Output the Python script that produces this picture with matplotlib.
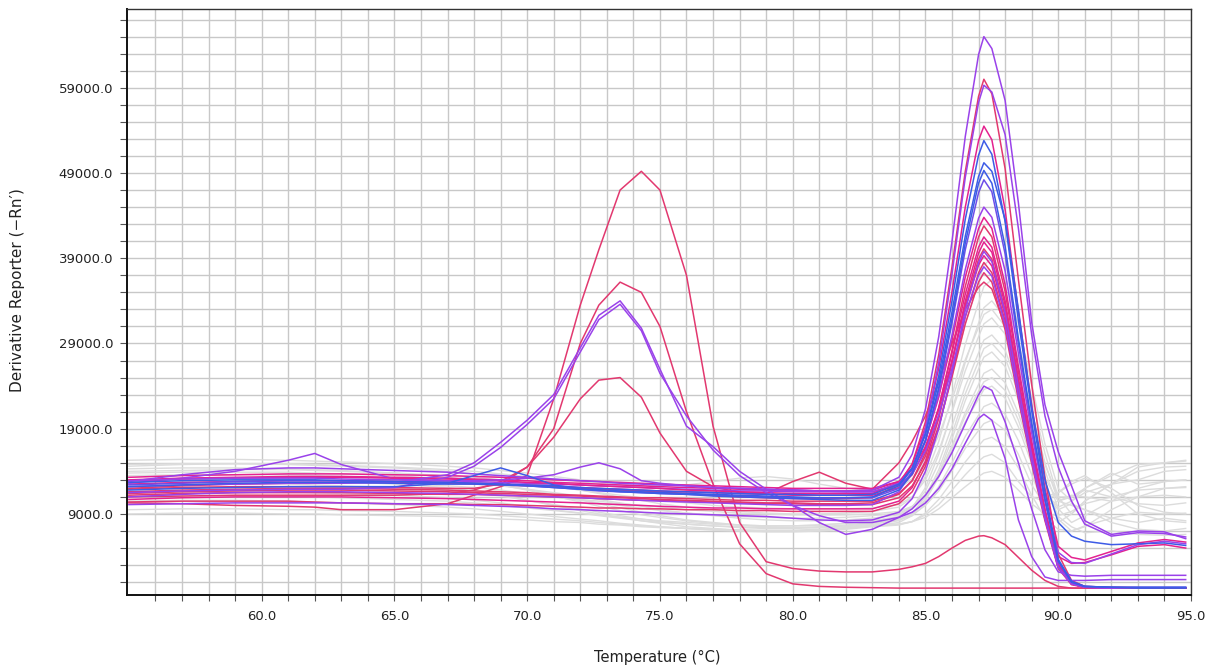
import numpy as np
import matplotlib
matplotlib.use("Agg")
import matplotlib.pyplot as plt
from matplotlib.ticker import FixedLocator, FuncFormatter

# Temperature grid shared by every melt curve (deg C)
temp_c = [55, 57, 59, 61, 62, 63, 65, 67, 68, 69, 70, 71, 72,
          72.7, 73.5, 74.3, 75, 76, 77, 78, 79, 80, 81, 82, 83,
          84, 84.5, 85, 85.5, 86, 86.5, 87, 87.2,
          87.5, 88, 88.5, 89, 89.5, 90, 90.5, 91, 92, 93, 94, 94.8]

# Derivative reporter values, in thousands of -Rn' units
# ---- highlighted wells ----
c1_k = [12.8, 13.6, 14.2, 14.4, 14.4, 14.3, 14.1, 13.9, 13.7, 13.5, 13.3, 13.1, 12.9,
        12.8, 12.6, 12.5, 12.4, 12.3, 12.1, 12.0, 11.9, 11.8, 11.7, 11.7, 11.8,
        13.3, 16.0, 21.3, 29.8, 41.0, 53.3, 62.9, 65.0,
        63.6, 57.5, 45.5, 31.5, 21.8, 16.3, 12.3, 8.2, 6.6, 7.0, 6.9, 6.1]
c2a_k = [12.0, 12.3, 12.5, 12.6, 12.6, 12.7, 12.7, 12.6, 12.5, 12.4, 12.3, 12.2, 12.0,
         11.9, 11.8, 11.7, 11.6, 11.4, 11.2, 11.0, 10.9, 10.8, 10.8, 10.8, 10.9,
         12.5, 14.9, 19.8, 27.7, 38.0, 49.2, 58.0, 60.0,
         58.3, 49.5, 36.5, 24.2, 13.3, 4.3, 1.2, 0.5, 0.4, 0.35, 0.3, 0.3]
c2b_k = [11.0, 11.3, 11.5, 11.6, 11.6, 11.6, 11.5, 11.4, 11.3, 11.2, 11.1, 11.0, 10.9,
         10.8, 10.7, 10.6, 10.5, 10.4, 10.3, 10.2, 10.1, 10.0, 10.0, 10.0, 10.1,
         11.6, 14.0, 19.0, 26.8, 37.2, 48.5, 57.3, 59.3,
         58.5, 53.5, 42.5, 30.0, 20.5, 14.5, 10.5, 7.8, 6.4, 6.8, 6.7, 6.3]
c3_k = [12.9, 13.1, 13.2, 13.3, 13.3, 13.3, 13.2, 13.1, 13.0, 12.9, 12.7, 12.6, 12.4,
        12.3, 12.2, 12.1, 12.0, 11.8, 11.7, 11.6, 11.5, 11.4, 11.4, 11.4, 11.4,
        12.7, 14.8, 19.2, 26.1, 35.1, 45.0, 52.8, 54.5,
        52.9, 44.7, 32.7, 21.8, 12.0, 5.2, 3.9, 3.6, 4.6, 5.6, 6.0, 5.7]
c4_k = [12.2, 12.4, 12.6, 12.7, 12.7, 12.7, 12.6, 12.5, 12.5, 12.4, 12.3, 12.1, 11.9,
        11.8, 11.7, 11.6, 11.5, 11.4, 11.3, 11.2, 11.1, 11.0, 10.9, 10.9, 11.0,
        12.3, 14.3, 18.5, 25.2, 34.0, 43.6, 51.1, 52.8,
        51.2, 43.3, 31.7, 21.1, 11.6, 3.7, 1.1, 0.5, 0.4, 0.4, 0.4, 0.4]
c5_k = [12.7, 12.9, 13.0, 13.0, 13.0, 12.9, 12.8, 12.7, 12.6, 12.5, 12.4, 12.3, 12.1,
        12.0, 11.9, 11.8, 11.7, 11.6, 11.5, 11.4, 11.3, 11.3, 11.2, 11.2, 11.3,
        12.5, 14.4, 18.3, 24.5, 32.7, 41.6, 48.6, 50.2,
        49.2, 43.5, 33.0, 21.5, 13.0, 8.0, 6.4, 5.8, 5.4, 5.5, 5.6, 5.3]
c6_k = [11.8, 12.0, 12.1, 12.2, 12.2, 12.2, 12.2, 12.6, 13.5, 14.4, 13.5, 12.4, 11.9,
        11.8, 11.6, 11.5, 11.4, 11.3, 11.1, 11.0, 10.9, 10.8, 10.7, 10.6, 10.6,
        11.8, 13.7, 17.6, 23.8, 31.9, 40.8, 47.8, 49.3,
        47.8, 40.4, 29.6, 19.7, 10.8, 3.5, 1.0, 0.5, 0.4, 0.3, 0.3, 0.3]
c7_k = [12.4, 12.6, 12.8, 12.9, 12.9, 12.9, 12.8, 12.7, 12.6, 12.5, 12.3, 12.1, 11.9,
        11.7, 11.6, 11.5, 11.4, 11.3, 11.2, 11.1, 11.0, 10.9, 10.9, 10.9, 10.9,
        12.0, 13.9, 17.6, 23.6, 31.4, 40.0, 46.7, 48.2,
        46.8, 39.5, 28.9, 19.3, 10.6, 3.4, 1.0, 0.5, 0.4, 0.4, 0.4, 0.4]
c8_k = [12.9, 13.1, 13.2, 13.2, 13.2, 13.1, 13.0, 12.9, 12.9, 13.0, 13.2, 13.6, 14.5,
        15.0, 14.3, 12.9, 12.6, 12.3, 12.1, 12.0, 11.9, 11.8, 11.7, 11.6, 11.6,
        12.6, 14.3, 17.6, 23.0, 30.0, 37.7, 43.7, 45.0,
        43.8, 37.5, 27.8, 18.5, 10.5, 4.5, 3.3, 3.2, 4.3, 5.4, 5.8, 5.5]
m1_k = [11.4, 11.6, 11.7, 11.8, 11.8, 11.8, 11.7, 11.6, 11.5, 11.4, 11.3, 11.2, 11.1,
        11.0, 10.9, 10.8, 10.7, 10.6, 10.5, 10.4, 10.3, 10.3, 10.2, 10.2, 10.3,
        11.3, 12.9, 16.2, 21.4, 28.2, 35.7, 41.5, 42.8,
        41.5, 35.1, 25.7, 17.1, 9.4, 3.0, 0.9, 0.4, 0.3, 0.3, 0.3, 0.3]
m2_k = [12.5, 12.7, 12.8, 12.9, 12.9, 12.9, 12.8, 12.7, 12.6, 12.5, 12.4, 12.3, 12.1,
        12.0, 11.9, 11.8, 11.7, 11.6, 11.5, 11.4, 11.3, 11.2, 11.2, 11.2, 11.2,
        12.1, 13.6, 16.7, 21.5, 27.9, 34.8, 40.3, 41.5,
        40.3, 34.0, 24.9, 16.6, 9.1, 2.9, 0.8, 0.4, 0.3, 0.3, 0.3, 0.3]
m3_k = [10.7, 10.9, 11.0, 11.0, 11.0, 11.0, 10.9, 10.8, 10.7, 10.6, 10.5, 10.4, 10.3,
        10.2, 10.1, 10.0, 9.9, 9.8, 9.7, 9.7, 9.6, 9.6, 9.6, 9.6, 9.6,
        10.5, 12.1, 15.2, 20.2, 26.8, 34.0, 39.6, 40.9,
        39.7, 33.5, 24.5, 16.4, 9.0, 4.0, 3.2, 3.3, 4.2, 5.2, 5.4, 5.0]
m4_k = [11.6, 11.8, 11.9, 12.0, 12.0, 12.0, 11.9, 11.8, 11.7, 11.6, 11.5, 11.3, 11.2,
        11.1, 11.0, 10.9, 10.9, 10.8, 10.7, 10.6, 10.6, 10.5, 10.5, 10.5, 10.5,
        11.4, 12.9, 15.8, 20.6, 26.8, 33.6, 38.9, 40.1,
        38.9, 32.9, 24.1, 16.0, 8.8, 2.8, 0.8, 0.4, 0.3, 0.3, 0.3, 0.3]
m5_k = [13.3, 13.5, 13.6, 13.7, 13.7, 13.7, 13.6, 13.5, 13.4, 13.3, 13.2, 13.0, 12.9,
        12.8, 12.7, 12.6, 12.5, 12.4, 12.3, 12.2, 12.1, 12.0, 12.0, 12.0, 12.0,
        12.8, 14.2, 16.9, 21.3, 27.0, 33.3, 38.2, 39.3,
        38.1, 32.2, 23.6, 15.7, 8.6, 2.8, 0.8, 0.4, 0.3, 0.3, 0.3, 0.3]
m6_k = [10.4, 10.5, 10.5, 10.5, 10.4, 10.3, 10.2, 10.2, 10.1, 10.1, 10.0, 9.9, 9.8,
        9.7, 9.7, 9.6, 9.6, 9.5, 9.5, 9.4, 9.4, 9.3, 9.3, 9.3, 9.3,
        10.2, 11.6, 14.6, 19.2, 25.4, 32.1, 37.3, 38.5,
        37.3, 31.6, 23.1, 15.4, 8.5, 2.7, 0.8, 0.4, 0.3, 0.3, 0.3, 0.3]
m7_k = [12.6, 13.2, 14.0, 15.3, 16.1, 14.8, 13.1, 12.9, 12.8, 12.7, 12.6, 12.5, 12.4,
        12.3, 12.2, 12.1, 12.0, 11.9, 11.8, 11.7, 11.7, 11.6, 11.6, 11.6, 11.6,
        12.4, 13.7, 16.4, 20.6, 26.1, 32.2, 37.0, 38.0,
        36.9, 31.2, 22.8, 15.2, 8.4, 2.7, 0.8, 0.4, 0.3, 0.3, 0.3, 0.3]
m8_k = [13.0, 13.2, 13.3, 13.4, 13.4, 13.4, 13.3, 13.2, 13.1, 13.0, 12.9, 12.7, 12.6,
        12.5, 12.4, 12.3, 12.2, 12.1, 12.0, 11.9, 11.8, 11.8, 11.7, 11.7, 11.8,
        12.8, 14.4, 17.6, 22.7, 29.4, 36.8, 42.5, 43.8,
        42.5, 35.9, 26.3, 17.5, 9.6, 3.1, 0.9, 0.4, 0.3, 0.3, 0.3, 0.3]
m9_k = [10.1, 10.2, 10.3, 10.3, 10.3, 10.3, 10.2, 10.1, 10.0, 9.9, 9.8, 9.6, 9.5,
        9.4, 9.3, 9.2, 9.1, 9.0, 8.9, 8.8, 8.7, 8.5, 8.3, 8.2, 8.3,
        9.2, 10.8, 14.0, 19.0, 25.6, 32.9, 38.5, 39.8,
        38.6, 32.6, 23.9, 15.9, 8.8, 2.8, 0.8, 0.4, 0.3, 0.3, 0.3, 0.3]
m10_k = [11.2, 11.4, 11.5, 11.5, 11.5, 11.5, 11.4, 11.3, 11.3, 11.2, 11.1, 11.0, 10.9,
         10.8, 10.7, 10.6, 10.6, 10.5, 10.4, 10.3, 10.2, 10.2, 10.1, 10.1, 10.1,
         10.9, 12.3, 15.0, 19.3, 25.1, 31.3, 36.2, 37.3,
         36.2, 30.6, 22.4, 14.9, 8.2, 2.6, 0.7, 0.4, 0.3, 0.3, 0.3, 0.3]
e1_k = [10.3, 10.2, 10.0, 9.9, 9.8, 9.5, 9.5, 10.2, 11.2, 12.2, 13.5, 22.5, 33.5,
        40.0, 47.0, 49.2, 47.0, 37.0, 19.3, 8.0, 3.4, 2.6, 2.3, 2.2, 2.2,
        2.5, 2.8, 3.2, 4.0, 5.0, 5.9, 6.4, 6.45,
        6.2, 5.4, 3.9, 2.4, 1.2, 0.5, 0.3, 0.3, 0.3, 0.3, 0.3, 0.3]
e2_k = [11.0, 11.1, 11.2, 11.2, 11.2, 11.2, 11.2, 11.4, 11.8, 12.8, 14.5, 19.0, 29.0,
        33.5, 36.2, 35.0, 31.0, 21.0, 12.5, 5.5, 2.0, 0.8, 0.5, 0.4, 0.35,
        0.3, 0.3, 0.3, 0.3, 0.3, 0.3, 0.3, 0.3,
        0.3, 0.3, 0.3, 0.3, 0.3, 0.3, 0.3, 0.3, 0.3, 0.3, 0.3, 0.3]
e3_k = [11.9, 12.1, 12.2, 12.2, 12.2, 12.2, 12.1, 12.0, 12.0, 12.5, 14.5, 18.0, 22.5,
        24.7, 25.0, 22.7, 18.5, 14.0, 12.2, 11.5, 11.4, 12.8, 13.9, 12.6, 11.9,
        15.0, 17.5, 20.5, 24.5, 29.0, 33.0, 35.6, 36.2,
        35.4, 31.0, 23.5, 15.5, 8.5, 3.0, 1.0, 0.4, 0.3, 0.3, 0.3, 0.3]
d1_k = [12.2, 12.4, 12.5, 12.6, 12.6, 12.6, 12.7, 13.6, 15.0, 17.4, 20.0, 23.0, 28.5,
        32.3, 34.0, 30.8, 26.0, 19.3, 16.9, 14.0, 11.9, 10.0, 8.0, 6.6, 7.2,
        8.6, 9.6, 11.2, 13.4, 16.2, 19.6, 23.0, 24.0,
        23.5, 19.8, 15.0, 9.6, 4.8, 2.2, 1.8, 1.7, 1.8, 1.8, 1.8, 1.8]
d2_k = [11.5, 11.7, 11.8, 11.9, 11.9, 11.9, 12.1, 13.3, 14.6, 16.8, 19.5, 22.5, 28.0,
        31.8, 33.6, 30.5, 25.5, 20.5, 16.5, 13.5, 11.5, 10.0, 8.8, 8.0, 8.0,
        8.6, 9.2, 10.3, 12.0, 14.3, 17.3, 20.2, 20.7,
        20.0, 15.5, 8.3, 4.0, 1.6, 1.2, 1.2, 1.2, 1.3, 1.3, 1.3, 1.3]

# ---- background (unselected) wells ----
g1_k = [15.3, 15.4, 15.4, 15.3, 15.2, 15.1, 14.9, 14.6, 14.4, 14.1, 13.8, 13.4, 13.0,
        12.8, 12.5, 12.2, 12.0, 11.8, 11.6, 11.5, 11.4, 11.3, 11.3, 11.3, 11.4,
        12.0, 13.1, 15.5, 19.7, 25.2, 31.3, 36.2, 38.2,
        39.0, 36.7, 31.2, 24.2, 17.2, 12.0, 10.5, 11.5, 12.5, 13.0, 14.0, 14.2]
g2_k = [14.8, 14.9, 14.9, 14.8, 14.7, 14.6, 14.4, 14.0, 13.7, 13.3, 12.8, 12.3, 11.8,
        11.4, 11.0, 10.6, 10.2, 9.8, 9.5, 9.3, 9.1, 9.0, 9.0, 9.1, 9.3,
        9.8, 10.9, 13.4, 17.5, 22.9, 28.9, 33.8, 35.7,
        36.5, 34.3, 29.2, 22.6, 16.1, 11.0, 9.0, 10.5, 12.5, 14.5, 15.0, 15.3]
g3_k = [14.3, 14.4, 14.4, 14.3, 14.2, 14.1, 13.8, 13.3, 12.9, 12.4, 11.8, 11.1, 10.4,
        9.9, 9.4, 8.9, 8.6, 8.2, 7.9, 7.7, 7.6, 7.6, 7.7, 7.9, 8.2,
        8.7, 9.7, 12.1, 16.0, 21.1, 26.8, 31.4, 33.2,
        34.0, 32.0, 27.2, 21.1, 15.0, 10.5, 10.0, 9.5, 8.5, 8.0, 8.5, 8.2]
g4_k = [14.0, 14.1, 14.2, 14.2, 14.1, 14.0, 13.8, 13.5, 13.3, 13.0, 12.6, 12.2, 11.8,
        11.5, 11.2, 10.9, 10.6, 10.3, 10.0, 9.8, 9.7, 9.6, 9.6, 9.6, 9.7,
        10.1, 11.0, 13.0, 16.4, 20.9, 25.8, 29.8, 31.3,
        32.0, 30.1, 25.6, 19.8, 14.1, 9.6, 8.0, 8.8, 10.5, 12.0, 12.8, 13.0]
g5_k = [13.5, 13.6, 13.6, 13.6, 13.5, 13.4, 13.2, 12.9, 12.6, 12.3, 11.9, 11.5, 11.1,
        10.7, 10.3, 9.9, 9.5, 9.1, 8.8, 8.5, 8.3, 8.2, 8.2, 8.3, 8.5,
        8.9, 9.8, 11.7, 15.0, 19.3, 24.0, 27.9, 29.4,
        30.0, 28.2, 24.0, 18.6, 13.2, 10.5, 11.0, 11.8, 11.0, 10.2, 10.0, 10.3]
g6_k = [13.0, 13.1, 13.1, 13.0, 12.9, 12.8, 12.5, 12.1, 11.7, 11.2, 10.6, 10.0, 9.4,
        9.0, 8.6, 8.2, 7.9, 7.5, 7.3, 7.1, 7.0, 7.0, 7.1, 7.3, 7.6,
        8.0, 8.8, 10.7, 13.7, 17.8, 22.3, 26.0, 27.4,
        28.0, 26.3, 22.4, 17.4, 12.3, 8.4, 7.0, 7.5, 9.5, 11.0, 12.0, 12.2]
g7_k = [12.5, 12.6, 12.6, 12.5, 12.4, 12.3, 12.1, 11.8, 11.5, 11.1, 10.6, 10.1, 9.6,
        9.2, 8.8, 8.4, 8.1, 7.8, 7.6, 7.4, 7.3, 7.3, 7.4, 7.6, 7.9,
        8.3, 9.0, 10.6, 13.3, 17.0, 20.9, 24.2, 25.5,
        26.0, 24.4, 20.8, 16.1, 11.4, 9.5, 10.2, 9.5, 8.0, 7.2, 7.0, 7.3]
g8_k = [12.0, 12.1, 12.2, 12.2, 12.2, 12.1, 12.0, 11.8, 11.7, 11.5, 11.3, 11.0, 10.7,
        10.5, 10.2, 10.0, 9.8, 9.5, 9.3, 9.1, 9.0, 8.9, 8.9, 8.9, 9.0,
        9.3, 9.9, 11.3, 13.5, 16.5, 19.8, 22.5, 23.6,
        24.0, 22.6, 19.2, 14.9, 11.0, 11.5, 12.5, 13.2, 12.0, 10.0, 9.2, 9.0]
g9_k = [11.5, 11.6, 11.6, 11.6, 11.5, 11.4, 11.2, 10.9, 10.6, 10.3, 9.9, 9.5, 9.1,
        8.8, 8.5, 8.2, 8.0, 7.8, 7.6, 7.5, 7.4, 7.4, 7.5, 7.7, 8.0,
        8.3, 8.8, 10.1, 12.2, 15.0, 18.1, 20.6, 21.6,
        22.0, 20.7, 17.6, 13.6, 9.7, 8.0, 9.0, 10.5, 12.5, 14.0, 14.5, 14.6]
g10_k = [11.0, 11.1, 11.1, 11.1, 11.0, 10.9, 10.7, 10.5, 10.3, 10.0, 9.7, 9.4, 9.1,
         8.9, 8.6, 8.4, 8.2, 8.0, 7.8, 7.7, 7.6, 7.6, 7.7, 7.9, 8.2,
         8.4, 8.9, 10.0, 11.7, 14.1, 16.7, 18.8, 19.6,
         20.0, 18.8, 16.0, 12.4, 10.0, 10.5, 11.2, 11.0, 10.5, 11.0, 11.2, 11.0]
g11_k = [10.5, 10.6, 10.6, 10.5, 10.4, 10.3, 10.1, 9.8, 9.6, 9.3, 9.0, 8.7, 8.4,
         8.2, 7.9, 7.7, 7.5, 7.3, 7.1, 7.0, 6.9, 6.9, 7.0, 7.2, 7.5,
         7.7, 8.1, 9.1, 10.7, 12.8, 15.1, 17.0, 17.7,
         18.0, 16.9, 14.4, 11.2, 8.5, 7.2, 7.0, 7.6, 8.5, 9.2, 9.0, 9.1]
g12_k = [9.5, 9.6, 9.6, 9.5, 9.5, 9.4, 9.3, 9.1, 9.0, 8.8, 8.6, 8.4, 8.2,
         8.0, 7.8, 7.6, 7.5, 7.3, 7.2, 7.1, 7.0, 7.0, 7.1, 7.3, 7.6,
         7.8, 8.1, 8.9, 10.1, 11.8, 13.6, 15.2, 15.7,
         16.0, 15.0, 12.8, 11.0, 10.5, 11.5, 12.8, 13.5, 11.5, 9.0, 8.2, 8.0]
g13_k = [9.0, 9.1, 9.1, 9.0, 9.0, 8.9, 8.8, 8.7, 8.6, 8.4, 8.3, 8.1, 8.0,
         7.8, 7.7, 7.5, 7.4, 7.3, 7.2, 7.1, 7.1, 7.1, 7.2, 7.4, 7.7,
         7.8, 8.1, 8.6, 9.6, 10.9, 12.2, 13.4, 13.8,
         14.0, 13.3, 11.8, 10.2, 9.0, 8.8, 9.3, 10.2, 11.0, 11.8, 12.0, 12.1]
g14_k = [14.6, 14.8, 14.9, 14.9, 14.8, 14.7, 14.5, 14.2, 14.0, 13.7, 13.4, 13.1, 12.8,
         12.6, 12.4, 12.3, 12.3, 12.4, 12.8, 13.2, 13.4, 13.1, 12.5, 12.0, 11.8,
         12.2, 13.1, 15.0, 18.2, 22.4, 27.1, 30.9, 32.4,
         33.0, 31.0, 26.4, 20.5, 14.8, 11.0, 11.0, 12.0, 13.5, 14.8, 15.0, 15.2]
g15_k = [13.8, 13.9, 13.9, 13.9, 13.8, 13.7, 13.5, 13.1, 12.8, 12.4, 11.9, 11.3, 10.7,
         10.2, 9.7, 9.2, 8.8, 8.3, 8.0, 7.7, 7.5, 7.4, 7.4, 7.5, 7.8,
         8.2, 9.1, 11.0, 14.2, 18.4, 23.1, 26.9, 28.4,
         29.0, 27.3, 23.2, 18.0, 12.8, 8.7, 7.5, 6.8, 7.0, 6.6, 6.5, 6.6]
g16_k = [12.8, 12.9, 13.0, 13.0, 12.9, 12.8, 12.6, 12.3, 12.1, 11.8, 11.4, 11.0, 10.6,
         10.3, 10.0, 9.7, 9.4, 9.1, 8.9, 8.7, 8.6, 8.5, 8.5, 8.6, 8.8,
         9.1, 9.8, 11.2, 13.7, 16.9, 20.5, 23.4, 24.5,
         25.0, 23.5, 20.0, 15.5, 11.5, 9.8, 10.5, 12.0, 13.8, 12.5, 12.8, 13.0]

PINK = "#e2386f"
MAGENTA = "#e4228f"
PURPLE = "#9a42ea"
BLUE = "#3d5be6"
VIOLET = "#6e4de8"
GREY = "#dcdcdc"

background_wells = [g1_k, g2_k, g3_k, g4_k, g5_k, g6_k, g7_k, g8_k,
                    g9_k, g10_k, g11_k, g12_k, g13_k, g14_k, g15_k, g16_k]

highlighted_wells = [
    (e1_k, PINK), (e2_k, PINK), (e3_k, PINK), (m6_k, PINK), (m3_k, MAGENTA),
    (m10_k, PINK), (m1_k, PINK), (m4_k, PINK), (m2_k, MAGENTA), (m5_k, MAGENTA),
    (m8_k, MAGENTA), (m9_k, PURPLE), (m7_k, PURPLE), (c2a_k, PINK),
    (c3_k, MAGENTA), (d1_k, PURPLE), (d2_k, PURPLE), (c8_k, PURPLE),
    (c2b_k, PURPLE), (c1_k, PURPLE), (c7_k, VIOLET), (c6_k, BLUE),
    (c5_k, BLUE), (c4_k, BLUE),
]

W, H, DPI = 1215, 671, 100
fig = plt.figure(figsize=(W / DPI, H / DPI), dpi=DPI)
ax = fig.add_axes([127 / W, 1 - 594.5 / H, (1191 - 127) / W, (594.5 - 8.5) / H])

t = np.asarray(temp_c)
for vals in background_wells:
    ax.plot(t, np.asarray(vals) * 1000, color=GREY, lw=1.0, zorder=2)
for vals, col in highlighted_wells:
    ax.plot(t, np.asarray(vals) * 1000, color=col, lw=1.1, zorder=3)

ax.set_xlim(54.93, 95.0)
ax.set_ylim(-450, 68300)

# ticks every 1 degC, labels every 5
ax.xaxis.set_major_locator(FixedLocator(np.arange(56, 96, 1)))
ax.xaxis.set_major_formatter(FuncFormatter(
    lambda v, p: f"{v:.1f}" if round(v) % 5 == 0 else ""))
# ticks every 2000, labels every 10000
ax.yaxis.set_major_locator(FixedLocator(np.arange(1000, 68000, 2000)))
ax.yaxis.set_major_formatter(FuncFormatter(
    lambda v, p: f"{v:.1f}" if round(v - 9000) % 10000 == 0 else ""))

ax.grid(True, color="#c8c8c8", lw=1.0, zorder=1)
ax.set_axisbelow(True)
ax.tick_params(axis="x", direction="out", length=4.5, width=0.8,
               color="#555555", pad=7, labelsize=9.5, labelcolor="#222222")
ax.tick_params(axis="y", direction="out", length=5, width=0.8,
               color="#555555", pad=5, labelsize=9.5, labelcolor="#222222")

for side in ("left", "bottom"):
    ax.spines[side].set_linewidth(1.4)
    ax.spines[side].set_color("#111111")
for side in ("top", "right"):
    ax.spines[side].set_linewidth(1.0)
    ax.spines[side].set_color("#333333")

fig.text(657 / W, 1 - 657 / H, "Temperature (\u00b0C)", ha="center", va="center",
         fontsize=10.5, color="#222222")
fig.text(18 / W, 1 - 290 / H, "Derivative Reporter (\u2212Rn\u2032)", ha="center",
         va="center", rotation=90, fontsize=11, color="#222222")

fig.savefig("out.png", dpi=DPI)
